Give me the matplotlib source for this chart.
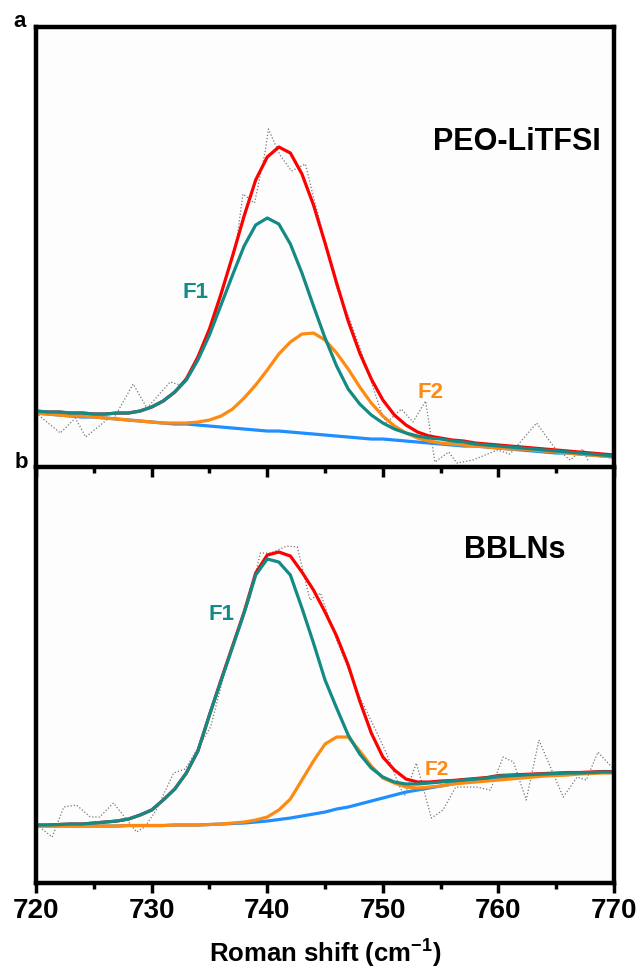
"""
Raman fitting of the TFSI- band (720-770 cm-1): PEO-LiTFSI vs BBLNs.
"""
import matplotlib
matplotlib.use('Agg')
import matplotlib.pyplot as plt

plt.rcParams['font.family'] = ['Liberation Sans', 'DejaVu Sans']
plt.rcParams['mathtext.fontset'] = 'custom'
plt.rcParams['mathtext.bf'] = 'Liberation Sans:bold'
plt.rcParams['mathtext.rm'] = 'Liberation Sans'

# fitted curves sampled every 1 cm-1
wn = list(range(720, 771))

# ---- panel a: PEO-LiTFSI ----
a_base = [0.54, 0.53, 0.52, 0.51, 0.50, 0.50, 0.49, 0.48, 0.47, 0.46,
          0.45, 0.44, 0.43, 0.43, 0.42, 0.41, 0.40, 0.39, 0.38, 0.37,
          0.36, 0.36, 0.35, 0.34, 0.33, 0.32, 0.31, 0.30, 0.29, 0.28,
          0.28, 0.27, 0.26, 0.25, 0.24, 0.23, 0.22, 0.21, 0.21, 0.20,
          0.19, 0.18, 0.17, 0.16, 0.15, 0.14, 0.14, 0.13, 0.12, 0.11, 0.10]
a_f1 = [0.56, 0.55, 0.55, 0.54, 0.54, 0.53, 0.53, 0.54, 0.54, 0.56,
        0.60, 0.66, 0.75, 0.87, 1.07, 1.32, 1.62, 1.92, 2.21, 2.42,
        2.49, 2.43, 2.23, 1.94, 1.61, 1.29, 1.01, 0.78, 0.63, 0.52,
        0.44, 0.38, 0.34, 0.31, 0.29, 0.28, 0.26, 0.25, 0.23, 0.22,
        0.21, 0.20, 0.19, 0.18, 0.17, 0.16, 0.15, 0.14, 0.13, 0.12, 0.11]
a_f2 = [0.54, 0.53, 0.52, 0.51, 0.51, 0.50, 0.49, 0.48, 0.47, 0.46,
        0.45, 0.44, 0.44, 0.44, 0.45, 0.47, 0.51, 0.58, 0.69, 0.82,
        0.97, 1.13, 1.25, 1.33, 1.34, 1.27, 1.14, 0.98, 0.80, 0.64,
        0.51, 0.41, 0.34, 0.29, 0.26, 0.24, 0.23, 0.22, 0.21, 0.20,
        0.19, 0.18, 0.18, 0.17, 0.16, 0.15, 0.14, 0.13, 0.12, 0.11, 0.10]
a_fit = [0.56, 0.55, 0.55, 0.54, 0.54, 0.53, 0.53, 0.54, 0.54, 0.56,
         0.60, 0.66, 0.75, 0.88, 1.10, 1.38, 1.73, 2.11, 2.51, 2.87,
         3.10, 3.20, 3.14, 2.93, 2.62, 2.24, 1.84, 1.46, 1.14, 0.88,
         0.67, 0.52, 0.42, 0.35, 0.31, 0.29, 0.27, 0.26, 0.24, 0.23,
         0.22, 0.21, 0.20, 0.19, 0.18, 0.17, 0.16, 0.15, 0.14, 0.13, 0.12]
a_raw_x = [720.0, 722.1, 723.4, 724.3, 726.1, 726.8, 728.4, 729.6, 731.6, 732.5,
           733.6, 734.7, 735.8, 736.8, 737.4, 737.9, 738.9, 739.8, 740.1, 741.1,
           742.1, 743.3, 744.0, 744.9, 746.0, 747.2, 748.3, 749.8, 750.3, 751.6,
           752.6, 753.7, 754.5, 755.7, 756.4, 757.8, 759.9, 761.0, 763.3, 764.8,
           766.2, 767.3, 767.8]
a_raw_y = [0.54, 0.34, 0.49, 0.30, 0.47, 0.50, 0.83, 0.59, 0.85, 0.82,
           1.00, 1.30, 1.60, 2.05, 2.30, 2.73, 2.64, 3.14, 3.38, 3.12,
           2.96, 3.03, 2.70, 2.30, 1.80, 1.45, 1.10, 0.57, 0.44, 0.58,
           0.45, 0.66, 0.05, 0.15, 0.04, 0.07, 0.17, 0.13, 0.44, 0.20,
           0.07, 0.18, 0.05]

# ---- panel b: BBLNs ----
b_base = [0.57, 0.57, 0.57, 0.57, 0.57, 0.57, 0.57, 0.57, 0.575, 0.575,
          0.575, 0.575, 0.58, 0.58, 0.58, 0.585, 0.59, 0.595, 0.60, 0.61,
          0.62, 0.635, 0.65, 0.67, 0.69, 0.71, 0.74, 0.76, 0.79, 0.82,
          0.85, 0.88, 0.91, 0.93, 0.95, 0.97, 0.99, 1.01, 1.02, 1.04,
          1.05, 1.06, 1.07, 1.08, 1.085, 1.09, 1.095, 1.10, 1.105, 1.11, 1.11]
b_f1 = [0.58, 0.58, 0.585, 0.59, 0.59, 0.60, 0.61, 0.62, 0.64, 0.68,
        0.73, 0.83, 0.94, 1.10, 1.32, 1.68, 2.02, 2.36, 2.70, 3.08,
        3.24, 3.21, 3.08, 2.75, 2.40, 2.03, 1.75, 1.48, 1.29, 1.15,
        1.06, 1.01, 0.99, 0.99, 1.00, 1.01, 1.02, 1.03, 1.04, 1.05,
        1.07, 1.075, 1.08, 1.085, 1.09, 1.095, 1.10, 1.10, 1.105, 1.11, 1.11]
b_f2 = [0.57, 0.57, 0.57, 0.57, 0.57, 0.57, 0.57, 0.57, 0.575, 0.575,
        0.575, 0.575, 0.58, 0.58, 0.58, 0.585, 0.59, 0.60, 0.61, 0.63,
        0.66, 0.73, 0.84, 1.03, 1.22, 1.39, 1.46, 1.46, 1.32, 1.17,
        1.05, 1.00, 0.96, 0.95, 0.96, 0.97, 0.99, 1.00, 1.01, 1.02,
        1.03, 1.04, 1.05, 1.06, 1.07, 1.075, 1.08, 1.09, 1.095, 1.10, 1.10]
b_fit = [0.58, 0.58, 0.585, 0.59, 0.59, 0.60, 0.61, 0.62, 0.64, 0.68,
         0.73, 0.83, 0.94, 1.10, 1.32, 1.68, 2.03, 2.37, 2.71, 3.10,
         3.28, 3.31, 3.27, 3.11, 2.93, 2.71, 2.47, 2.18, 1.82, 1.50,
         1.26, 1.13, 1.04, 1.01, 1.01, 1.02, 1.025, 1.035, 1.045, 1.055,
         1.075, 1.08, 1.085, 1.09, 1.095, 1.10, 1.105, 1.105, 1.11, 1.115, 1.115]
b_raw_x = [720.3, 721.4, 722.4, 723.5, 724.7, 725.5, 726.7, 728.7, 729.4, 730.4,
           731.9, 732.9, 735.1, 736.3, 737.6, 738.5, 739.4, 740.3, 741.7, 742.6,
           743.7, 744.6, 746.0, 748.0, 749.5, 750.3, 751.5, 751.9, 752.9, 754.2,
           755.2, 756.3, 758.1, 759.3, 760.4, 761.3, 762.4, 763.5, 765.6, 766.8,
           767.6, 768.6, 769.8]
b_raw_y = [0.56, 0.46, 0.76, 0.78, 0.66, 0.66, 0.80, 0.51, 0.56, 0.73,
           1.10, 1.14, 1.56, 2.10, 2.56, 2.85, 3.30, 3.30, 3.37, 3.36,
           2.83, 2.90, 2.43, 1.86, 1.50, 1.30, 0.95, 0.88, 1.20, 0.65,
           0.73, 0.96, 0.96, 0.93, 1.26, 1.21, 0.83, 1.43, 0.86, 1.06,
           1.03, 1.31, 1.16]

RED = '#ff0000'
TEAL = '#138a84'
ORANGE = '#ff8a12'
BLUE = '#1f8fff'
LW = 2.3

fig = plt.figure(figsize=(6.41, 9.74), dpi=100)
ax_b = fig.add_axes([0.0562, 0.0934, 0.9018, 0.4271])
ax_a = fig.add_axes([0.0562, 0.5205, 0.9018, 0.4518])
ax_a.set_zorder(3)


def draw_panel(ax, raw_x, raw_y, base, f1, f2, fit, ymax):
    ax.plot(raw_x, raw_y, color='#777777', lw=0.9, ls=(0, (1, 1.6)))
    ax.plot(wn, base, color=BLUE, lw=LW)
    ax.plot(wn, fit, color=RED, lw=LW)
    ax.plot(wn, f2, color=ORANGE, lw=LW)
    ax.plot(wn, f1, color=TEAL, lw=LW)
    ax.set_xlim(720, 770)
    ax.set_ylim(0, ymax)
    ax.set_facecolor('#fdfdfd')
    ax.set_yticks([])
    ax.set_xticks([720, 730, 740, 750, 760, 770])
    ax.set_xticks([725, 735, 745, 755, 765], minor=True)
    ax.tick_params(axis='x', which='major', direction='out', length=7, width=2.5)
    ax.tick_params(axis='x', which='minor', direction='out', length=4, width=2.5)
    for s in ax.spines.values():
        s.set_linewidth(3.2)


draw_panel(ax_a, a_raw_x, a_raw_y, a_base, a_f1, a_f2, a_fit, 4.40)
draw_panel(ax_b, b_raw_x, b_raw_y, b_base, b_f1, b_f2, b_fit, 4.16)
ax_a.tick_params(axis='x', labelbottom=False)
ax_b.spines['top'].set_visible(False)
for lab in ax_b.get_xticklabels():
    lab.set_fontweight('bold')
    lab.set_fontsize(20)

ax_a.text(761.6, 3.25, 'PEO-LiTFSI', fontsize=22, fontweight='bold', ha='center', va='center')
ax_a.text(733.8, 1.75, 'F1', fontsize=16, fontweight='bold', color=TEAL, ha='center', va='center')
ax_a.text(754.1, 0.75, 'F2', fontsize=16, fontweight='bold', color=ORANGE, ha='center', va='center')

ax_b.text(761.4, 3.33, 'BBLNs', fontsize=22, fontweight='bold', ha='center', va='center')
ax_b.text(736.0, 2.69, 'F1', fontsize=16, fontweight='bold', color=TEAL, ha='center', va='center')
ax_b.text(754.7, 1.14, 'F2', fontsize=15, fontweight='bold', color=ORANGE, ha='center', va='center')

ax_b.set_xlabel(r'Roman shift (cm$^{\mathbf{-1}}$)', fontsize=18.5, fontweight='bold', labelpad=9)

fig.text(0.030, 0.978, 'a', fontsize=16, fontweight='bold', ha='center', va='center')
fig.text(0.034, 0.525, 'b', fontsize=16, fontweight='bold', ha='center', va='center')

fig.savefig('out.png', dpi=100, facecolor='white')
